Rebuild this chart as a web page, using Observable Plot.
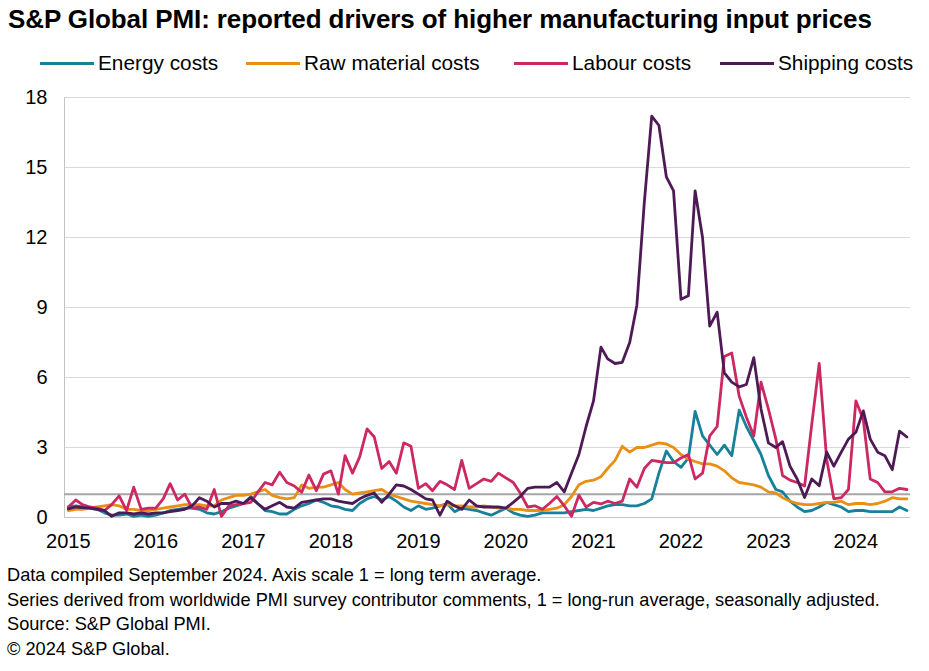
<!DOCTYPE html>
<html><head><meta charset="utf-8">
<script src="https://cdn.jsdelivr.net/npm/d3@7"></script>
<script src="https://cdn.jsdelivr.net/npm/@observablehq/plot@0.6"></script>
<style>
body{margin:0;background:#fff;font-family:"Liberation Sans",Arial,sans-serif;color:#000;width:929px;height:671px;overflow:hidden;position:relative}
#title{position:absolute;left:8px;top:4px;font-size:26px;line-height:30px;font-weight:bold;white-space:nowrap;letter-spacing:-0.1px}
#legend{position:absolute;top:51px;left:0;width:929px;height:24px}
.item{position:absolute;top:0;height:24px;display:flex;align-items:center;font-size:20.8px;white-space:nowrap}
.sw{display:inline-block;width:54px;height:3px;margin-right:4px}
#chart{position:absolute;left:0;top:80px}
#foot{position:absolute;left:7px;top:563px;font-size:18.2px;line-height:24.6px;white-space:nowrap}
</style></head>
<body>
<div id="title">S&amp;P Global PMI: reported drivers of higher manufacturing input prices</div>
<div id="legend"></div>
<div id="chart"></div>
<div id="foot">
<div>Data compiled September 2024. Axis scale 1 = long term average.</div>
<div>Series derived from worldwide PMI survey contributor comments, 1 = long-run average, seasonally adjusted.</div>
<div>Source: S&amp;P Global PMI.</div>
<div>© 2024 S&amp;P Global.</div>
</div>
<script>
// Monthly series, Jan 2015 – Aug 2024
const startYear = 2015;
const seriesNames = ["Energy costs", "Raw material costs", "Labour costs", "Shipping costs"];
const seriesColors = ["#17809a", "#e98f14", "#cc2862", "#4e1a55"];
const yTicks = [0, 3, 6, 9, 12, 15, 18];
const yearLabels = [2015, 2016, 2017, 2018, 2019, 2020, 2021, 2022, 2023, 2024];

const energy = [
  0.45, 0.5, 0.45, 0.4, 0.35, 0.2, 0.1, 0.1, 0.15, 0.05, 0.1, 0.05,
  0.1, 0.2, 0.3, 0.35, 0.4, 0.4, 0.35, 0.2, 0.15, 0.25, 0.4, 0.5,
  0.6, 0.9, 0.6, 0.3, 0.25, 0.15, 0.15, 0.35, 0.5, 0.6, 0.75, 0.65,
  0.5, 0.45, 0.35, 0.3, 0.6, 0.8, 0.9, 0.75, 0.9, 0.7, 0.45, 0.3,
  0.5, 0.35, 0.4, 0.5, 0.6, 0.25, 0.4, 0.35, 0.3, 0.2, 0.1, 0.25,
  0.4, 0.2, 0.1, 0.05, 0.1, 0.2, 0.2, 0.2, 0.2, 0.25, 0.3, 0.35,
  0.3, 0.4, 0.5, 0.55, 0.55, 0.5, 0.5, 0.6, 0.8, 1.9, 2.85, 2.4,
  2.15, 2.55, 4.55, 3.5, 3.1, 2.7, 3.1, 2.65, 4.6, 3.9, 3.3, 2.7,
  1.8, 1.2, 1.1, 0.7, 0.45, 0.25, 0.3, 0.45, 0.65, 0.55, 0.45, 0.25,
  0.3, 0.3, 0.25, 0.25, 0.25, 0.25, 0.45, 0.3
];
const rawMaterial = [
  0.3, 0.35, 0.35, 0.4, 0.45, 0.5, 0.55, 0.5, 0.35, 0.35, 0.3, 0.3,
  0.35, 0.4, 0.45, 0.5, 0.55, 0.55, 0.55, 0.5, 0.5, 0.75, 0.85, 0.95,
  0.95, 1.0, 1.1, 1.2, 0.95, 0.85, 0.8, 0.85, 1.4, 1.25, 1.3, 1.3,
  1.4, 1.5, 1.2, 1.0, 1.05, 1.1, 1.15, 1.2, 1.0, 0.9, 0.8, 0.7,
  0.65, 0.6, 0.55, 0.5, 0.55, 0.5, 0.5, 0.45, 0.45, 0.5, 0.45, 0.4,
  0.4, 0.35, 0.35, 0.3, 0.3, 0.3, 0.35, 0.4, 0.55, 0.9, 1.4, 1.55,
  1.6, 1.75, 2.1, 2.45, 3.05, 2.8, 3.0, 3.0, 3.1, 3.2, 3.15, 3.0,
  2.7, 2.5, 2.4, 2.3, 2.3, 2.2, 2.0, 1.7, 1.5, 1.45, 1.4, 1.3,
  1.1, 1.05, 0.85, 0.7, 0.6, 0.55, 0.55, 0.6, 0.65, 0.65, 0.7, 0.55,
  0.6, 0.6, 0.55, 0.6, 0.7, 0.85, 0.8, 0.8
];
const labour = [
  0.45, 0.75, 0.55, 0.45, 0.4, 0.3, 0.55, 0.93, 0.3, 1.3, 0.35, 0.4,
  0.4, 0.8, 1.45, 0.75, 1.0, 0.4, 0.45, 0.35, 1.2, 0.05, 0.5, 0.55,
  0.6, 0.65, 1.08, 1.5, 1.4, 1.94, 1.5, 1.35, 1.08, 1.82, 1.15, 1.86,
  2.0, 1.0, 2.65, 1.9, 2.6, 3.8, 3.45, 2.1, 2.4, 1.9, 3.2, 3.05,
  1.25, 1.45, 1.15, 1.55, 1.4, 1.2, 2.45, 1.25, 1.45, 1.65, 1.55, 1.9,
  1.7, 1.5, 1.05, 0.45, 0.5, 0.35, 0.6, 0.9, 0.5, 0.05, 0.95, 0.45,
  0.65, 0.58, 0.7, 0.6, 0.7, 1.65, 1.3, 2.1, 2.45, 2.4, 2.35, 2.35,
  2.55, 2.7, 1.65, 1.9, 3.5, 3.9, 6.9, 7.05, 5.2, 4.3, 3.5, 5.8,
  4.65, 3.36, 1.8, 1.6, 1.5, 1.35, 4.0, 6.6, 2.5, 0.8, 0.85, 1.2,
  5.0, 4.2, 1.65, 1.5, 1.1, 1.1, 1.25, 1.2
];
const shipping = [
  0.37, 0.45, 0.42, 0.4, 0.35, 0.3, 0.05, 0.2, 0.2, 0.15, 0.2, 0.15,
  0.2, 0.2, 0.25, 0.3, 0.35, 0.5, 0.85, 0.7, 0.45, 0.6, 0.6, 0.7,
  0.6, 0.85, 0.6, 0.35, 0.5, 0.65, 0.45, 0.4, 0.65, 0.7, 0.75, 0.8,
  0.8, 0.7, 0.65, 0.6, 0.8, 0.95, 1.05, 0.65, 1.0, 1.4, 1.35, 1.2,
  1.0, 0.8, 0.75, 0.1, 0.7, 0.5, 0.35, 0.75, 0.5, 0.45, 0.45, 0.45,
  0.4, 0.65, 0.9, 1.25, 1.3, 1.3, 1.3, 1.5, 1.1, 1.9, 2.7, 3.9,
  5.0, 7.3, 6.8, 6.6, 6.65, 7.5, 9.1, 13.5, 17.2, 16.8, 14.6, 14.0,
  9.35, 9.5, 14.0, 12.0, 8.2, 8.8, 6.2, 5.8, 5.6, 5.7, 6.85, 4.65,
  3.2, 3.0, 3.25, 2.2, 1.65, 0.86, 1.65, 1.36, 2.8, 2.2, 2.8, 3.36,
  3.65, 4.57, 3.36, 2.8, 2.65, 2.05, 3.7, 3.45
];

const seriesValues = [energy, rawMaterial, labour, shipping];
const data = seriesValues.flatMap((vals, s) => vals.map((v, i) => ({
  date: new Date(Date.UTC(startYear, i, 1)),
  value: v,
  series: seriesNames[s]
})));

const xStart = new Date(Date.UTC(2014, 11, 16));
const xEnd = new Date(Date.UTC(2024, 7, 16));
const yearDates = yearLabels.map(y => new Date(Date.UTC(y, 0, 1)));

// legend
const legendPos = [40, 246, 514, 720];
const legend = document.getElementById("legend");
seriesNames.forEach((n, i) => {
  const it = document.createElement("div");
  it.className = "item";
  it.style.left = legendPos[i] + "px";
  it.innerHTML = `<span class="sw" style="background:${seriesColors[i]}"></span><span>${n}</span>`;
  legend.appendChild(it);
});

const chart = Plot.plot({
  width: 929,
  height: 480,
  marginTop: 17,
  marginBottom: 43,
  marginLeft: 64,
  marginRight: 19,
  style: {fontFamily: "Liberation Sans, Arial, sans-serif", fontSize: "20px", color: "#000", background: "transparent", overflow: "visible"},
  x: {type: "utc", domain: [xStart, xEnd], label: null},
  y: {domain: [0, 18], label: null},
  color: {domain: seriesNames, range: seriesColors},
  marks: [
    Plot.gridY(yTicks, {stroke: "#d9d9d9", strokeOpacity: 1}),
    Plot.ruleY([0], {stroke: "#c4c4c4"}),
    Plot.ruleX([xStart], {stroke: "#c4c4c4"}),
    Plot.ruleY([1], {stroke: "#a6a6a6", strokeWidth: 2}),
    Plot.lineY(data, {x: "date", y: "value", z: "series", stroke: "series", strokeWidth: 2.8, strokeLinejoin: "round"}),
    Plot.axisY(yTicks, {tickSize: 0, tickPadding: 17, label: null, fontSize: 20}),
    Plot.axisX(yearDates, {tickSize: 0, tickPadding: 16, label: null, fontSize: 20, tickFormat: d => String(d.getUTCFullYear())})
  ]
});
document.getElementById("chart").appendChild(chart);
</script>
</body></html>
